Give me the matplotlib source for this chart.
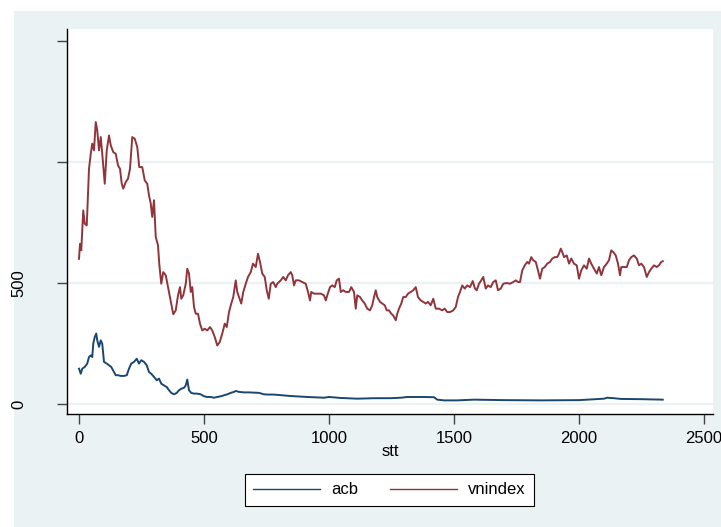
import numpy as np
import matplotlib
matplotlib.use("Agg")
import matplotlib.pyplot as plt
from matplotlib.patches import Rectangle

plt.rcParams['font.family'] = ['Liberation Sans', 'DejaVu Sans']

# values (stt, price)
vni_stt = [0, 4, 9, 17, 23, 31, 40, 47, 53, 60, 67, 73, 80, 87, 93, 103, 111, 120, 127, 137,
           147, 156, 164, 171, 177, 187, 196, 204, 213, 223, 233, 241, 253, 263, 273, 280, 287,
           293, 300, 307, 316, 321, 329, 337, 347, 356, 367, 377, 387, 396, 404, 409, 417, 427,
           433, 440, 447, 453, 460, 467, 476, 484, 493, 503, 513, 524, 533, 543, 553, 563, 573,
           583, 591, 600, 609, 617, 627, 633, 640, 649, 657, 667, 676, 687, 696, 707, 716, 724,
           733, 743, 751, 759, 767, 777, 787,
           793, 807, 817, 827, 836, 847, 853, 860, 867, 880, 893, 907, 916, 924, 929, 940, 953,
           967, 980, 987, 993, 1004, 1013, 1023, 1031, 1040, 1047, 1057, 1067, 1080, 1089, 1100,
           1107, 1113, 1124, 1133, 1143, 1153, 1164, 1173, 1180, 1187, 1193, 1204, 1213, 1223,
           1231, 1240, 1249, 1257, 1267, 1273, 1280, 1289, 1297, 1307, 1316, 1327, 1337, 1347,
           1356, 1367, 1377, 1387, 1396, 1407, 1417, 1427, 1440, 1453, 1463, 1473, 1484, 1497,
           1507, 1516, 1524, 1533, 1543, 1553, 1564, 1575, 1584,
           1591, 1600, 1609, 1617, 1627, 1636, 1647, 1657, 1667, 1676, 1687, 1697, 1711, 1724,
           1737, 1747, 1756, 1764, 1773, 1783, 1793, 1800, 1809, 1817, 1827, 1836, 1844, 1853,
           1863, 1873, 1884, 1893, 1903, 1913, 1920, 1927, 1933, 1940, 1951, 1960, 1969, 1980,
           1991, 2000, 2009, 2020, 2031, 2040, 2049, 2060, 2071, 2080, 2089, 2100, 2111, 2120,
           2129, 2137, 2147, 2156, 2164, 2169, 2180, 2191, 2200, 2209, 2220, 2231, 2240, 2249,
           2260, 2271, 2280, 2289, 2300, 2311, 2320, 2329, 2335]
vni_val = [600, 662, 635, 800, 745, 738, 972, 1034, 1076, 1048, 1165, 1131, 1048, 1103, 1034,
           910, 1048, 1110, 1069, 1041, 1034, 986, 972, 910, 890, 917, 931, 972, 1103, 1096, 1062,
           979, 979, 924, 910, 862, 828, 773, 842, 690, 656, 580, 497, 545, 532, 483, 422, 371,
           387, 449, 483, 435, 449, 497, 559, 539, 463, 483, 401, 373, 373, 332, 304, 311, 304,
           318, 304, 277, 242, 256, 291, 332, 318, 380, 415, 442, 511, 463, 442, 415, 463, 497,
           525, 545, 580, 566, 621, 587, 539, 525, 470, 435, 497, 504, 483,
           497, 511, 525, 511, 532, 545, 532, 490, 511, 511, 504, 497, 463, 428, 463, 456, 456,
           456, 449, 428, 449, 483, 490, 483, 511, 518, 463, 470, 463, 463, 483, 463,
           394, 449, 442, 428, 415, 394, 387, 408, 442, 470, 442, 422, 415, 408,
           387, 387, 373, 366, 346, 373, 394, 415, 442, 442, 456, 463, 470, 483,
           442, 428, 422, 415, 422, 408, 435, 394, 394, 387, 394, 380, 380, 387,
           401, 442, 463, 490, 477, 490, 483, 508, 477,
           470, 497, 511, 525, 477, 490, 483, 504, 511, 470, 477, 497, 500, 497,
           504, 511, 504, 504, 552, 573, 587, 580, 607, 594, 587, 552, 518, 559,
           566, 580, 587, 601, 607, 607, 621, 642, 628, 607, 614, 580, 601, 580,
           573, 518, 552, 573, 559, 601, 580, 559, 539, 566, 532, 566, 580, 594,
           635, 628, 614, 580, 532, 566, 566, 566, 594, 607, 614, 601, 573, 580,
           566, 525, 545, 559, 573, 566, 573, 587, 590]

acb_stt = [0, 7, 13, 23, 33, 40, 47, 53, 57, 63, 69, 73, 80, 87, 93, 100, 111, 120, 129, 140,
           147, 156, 167, 180, 191, 200, 209, 220, 231, 240, 249, 260, 271, 280, 289, 300, 311,
           320, 329, 340, 351, 360, 369, 380, 391, 400, 409, 420, 427, 433, 440, 449, 460, 473,
           487, 500, 513, 527, 540, 553, 567, 580, 593, 607, 620, 627, 640, 660, 680, 700, 720,
           740, 760, 780, 847, 913, 980, 1000, 1047, 1113, 1180, 1247, 1287, 1313, 1380, 1420,
           1433, 1460, 1513, 1580, 1700, 1850, 2000, 2100, 2113, 2140, 2167, 2247, 2335]
acb_val = [146, 125, 146, 153, 167, 194, 201, 194, 249, 277, 291, 263, 236, 263, 249, 174, 167,
           160, 153, 132, 119, 119, 116, 116, 119, 146, 167, 174, 187, 167, 181, 174, 160, 132,
           125, 112, 98, 105, 84, 77, 70, 57, 46, 40, 46, 57, 63, 67, 77, 101, 57, 46, 43, 43,
           40, 32, 29, 29, 26, 29, 32, 36, 40, 46, 50, 54, 50, 48, 48, 47, 46, 40, 39, 39, 33,
           29, 26, 29, 25, 22, 24, 24, 26, 29, 29, 28, 18, 15, 15, 18, 16, 15, 16, 22, 26, 24,
           21, 20, 18]

yticks = [0, 500, 1000, 1500]
ytick_labels = ['0', '500', '', '']
xticks = [0, 500, 1000, 1500, 2000, 2500]
grid_vals = [0, 500, 1000]

navy = '#1a476f'
maroon = '#90353b'
bg = '#eaf2f3'

W, H = 721, 527
fig = plt.figure(figsize=(W / 100, H / 100), dpi=100, facecolor='white')
# graph region (light blue-grey), slightly offset from the top-left corner
fig.patches.append(Rectangle((14 / W, 0), 1, (H - 11) / H, transform=fig.transFigure,
                             facecolor=bg, edgecolor='none', zorder=-5))

ax = fig.add_axes([67 / W, (H - 414) / H, (713 - 67) / W, (414 - 29) / H])
ax.set_zorder(2)
ax.set_facecolor('white')

for g in grid_vals:
    ax.axhline(g, color=bg, lw=1.6, zorder=1)

ax.plot(acb_stt, acb_val, color=navy, lw=1.4, label='acb', zorder=3)
ax.plot(vni_stt, vni_val, color=maroon, lw=1.4, label='vnindex', zorder=3)

ax.set_xlim(-48, 2536)
ax.set_ylim(-41.3, 1549.6)

for s in ['top', 'right']:
    ax.spines[s].set_visible(False)
for s in ['left', 'bottom']:
    ax.spines[s].set_color('black')
    ax.spines[s].set_linewidth(1.0)

ax.set_yticks(yticks)
ax.set_yticklabels(ytick_labels, rotation=90, va='center')
ax.set_xticks(xticks)
ax.tick_params(axis='y', length=7, width=1, color='#444444', pad=22, labelsize=12)
ax.tick_params(axis='x', length=7, width=1, color='#444444', pad=5, labelsize=12)
ax.set_xlabel('stt', fontsize=12, labelpad=-1)

leg = fig.legend(loc='center', bbox_to_anchor=(389.5 / W, 1 - 490 / H), ncol=2,
                 fontsize=12, frameon=True, fancybox=False, edgecolor='black',
                 facecolor='white', framealpha=1,
                 handlelength=4.0, handletextpad=0.7, columnspacing=1.9,
                 borderpad=0.5)
leg.get_frame().set_linewidth(0.8)
for line in leg.get_lines():
    line.set_linewidth(1.0)

fig.savefig('out.png', dpi=100, facecolor='white')
